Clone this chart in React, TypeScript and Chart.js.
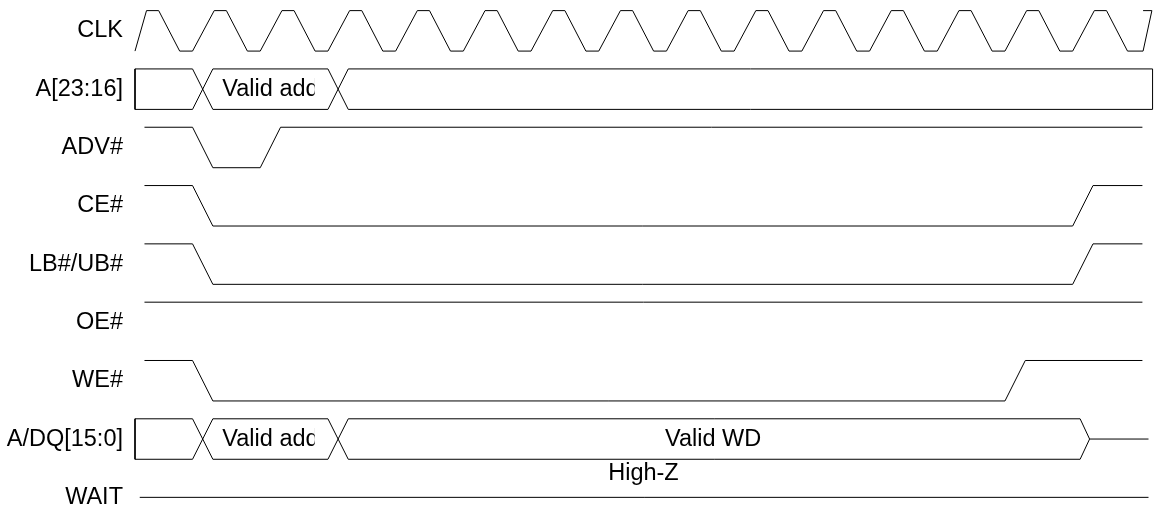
import React, { useEffect, useRef } from 'react';
import { Chart, registerables } from 'chart.js';

Chart.register(...registerables);

// Signal names (one row each, top to bottom)
const signalNames = ['CLK', 'A[23:16]', 'ADV#', 'CE#', 'LB#/UB#', 'OE#', 'WE#', 'A/DQ[15:0]', 'WAIT'];

// Waveforms: [time in clock cycles, level] ; level 1 = high, 0 = low, 0.5 = mid / high-Z
const clkWave: number[][] = [
  [0, 0], [0.17, 1], [0.35, 1], [0.66, 0], [0.85, 0],
  [1.17, 1], [1.35, 1], [1.66, 0], [1.85, 0],
  [2.17, 1], [2.35, 1], [2.66, 0], [2.85, 0],
  [3.17, 1], [3.35, 1], [3.66, 0], [3.85, 0],
  [4.17, 1], [4.35, 1], [4.66, 0], [4.85, 0],
  [5.17, 1], [5.35, 1], [5.66, 0], [5.85, 0],
  [6.17, 1], [6.35, 1], [6.66, 0], [6.85, 0],
  [7.17, 1], [7.35, 1], [7.66, 0], [7.85, 0],
  [8.17, 1], [8.35, 1], [8.66, 0], [8.85, 0],
  [9.17, 1], [9.35, 1], [9.66, 0], [9.85, 0],
  [10.17, 1], [10.35, 1], [10.66, 0], [10.85, 0],
  [11.17, 1], [11.35, 1], [11.66, 0], [11.85, 0],
  [12.17, 1], [12.35, 1], [12.66, 0], [12.85, 0],
  [13.17, 1], [13.35, 1], [13.66, 0], [13.85, 0],
  [14.17, 1], [14.35, 1], [14.66, 0], [14.89, 0],
  [15.02, 1], [14.89, 1],
];
const addrHiBus: number[][] = [
  [15.03, 1], [3.15, 1], [2.85, 0], [1.15, 0], [0.85, 1], [0, 1],
  [0, 0], [0.85, 0], [1.15, 1], [2.85, 1], [3.15, 0], [15.03, 0], [15.03, 1],
];
const advWave: number[][] = [[0.14, 1], [0.85, 1], [1.15, 0], [1.85, 0], [2.15, 1], [14.88, 1]];
const ceWave: number[][] = [[0.14, 1], [0.85, 1], [1.15, 0], [13.85, 0], [14.15, 1], [14.88, 1]];
const lbubWave: number[][] = [[0.14, 1], [0.85, 1], [1.15, 0], [13.85, 0], [14.15, 1], [14.88, 1]];
const oeWave: number[][] = [[0.14, 1], [14.88, 1]];
const weWave: number[][] = [[0.14, 1], [0.85, 1], [1.15, 0], [12.85, 0], [13.15, 1], [14.88, 1]];
const adqBus: number[][] = [
  [14.97, 0.5], [14.1, 0.5], [13.96, 1], [3.15, 1], [2.85, 0], [1.15, 0], [0.85, 1], [0, 1],
  [0, 0], [0.85, 0], [1.15, 1], [2.85, 1], [3.15, 0], [13.96, 0], [14.1, 0.5],
];
const waitWave: number[][] = [[0.07, 0.5], [14.97, 0.5]];

const waves = [clkWave, addrHiBus, advWave, ceWave, lbubWave, oeWave, weWave, adqBus, waitWave];

// Bus annotations
const annoText = ['Valid address', 'Valid address', 'Valid WD', 'High-Z'];
const annoTime = [1.29, 1.29, 8.54, 7.51];
const annoRow = [1.117, 7.117, 7.125, 7.71];
const annoClipEnd: (number | null)[] = [2.655, 2.655, null, null];
const annoAlign: CanvasTextAlign[] = ['left', 'left', 'center', 'center'];

const SWING = 0.347; // half height of a waveform, in rows
const FONT_FAMILY = '"Liberation Sans", Arial, sans-serif';
const FONT_SIZE = 23.5;

const busTextPlugin = {
  id: 'busText',
  afterDatasetsDraw(chart: any) {
    const { ctx, scales } = chart;
    const x = scales.x;
    const y = scales.y;
    ctx.save();
    ctx.font = `${FONT_SIZE}px ${FONT_FAMILY}`;
    ctx.fillStyle = '#000';
    ctx.textBaseline = 'alphabetic';
    annoText.forEach((txt, i) => {
      const px = x.getPixelForValue(annoTime[i]);
      const py = y.getPixelForValue(annoRow[i]);
      ctx.save();
      const clipEnd = annoClipEnd[i];
      if (clipEnd != null) {
        const ex = x.getPixelForValue(clipEnd);
        ctx.beginPath();
        ctx.rect(px - 4, py - 30, ex - px + 4, 40);
        ctx.clip();
      }
      ctx.textAlign = annoAlign[i];
      ctx.fillText(txt, px, py);
      ctx.restore();
    });
    ctx.restore();
  },
};

export default function App() {
  const ref = useRef<HTMLCanvasElement>(null);

  useEffect(() => {
    if (!ref.current) return;
    const datasets = waves.map((w, row) => ({
      label: signalNames[row],
      data: w.map(([t, lv]) => ({ x: t, y: row + (0.5 - lv) * 2 * SWING })),
      showLine: true,
      borderColor: '#000',
      borderWidth: 1,
      pointRadius: 0,
      pointHoverRadius: 0,
      tension: 0,
      fill: false,
      clip: false as any,
    }));

    const chart = new Chart(ref.current, {
      type: 'scatter',
      data: { datasets },
      options: {
        animation: false,
        responsive: false,
        devicePixelRatio: 1,
        events: [],
        layout: { padding: 0 },
        plugins: {
          legend: { display: false },
          tooltip: { enabled: false },
          title: { display: false },
        },
        scales: {
          x: {
            type: 'linear',
            display: false,
            min: 0,
            max: 15.066,
          },
          y: {
            type: 'linear',
            reverse: true,
            min: -0.529,
            max: 8.234,
            grid: { display: false, drawTicks: false },
            border: { display: false },
            ticks: {
              padding: 12,
              color: '#000',
              font: { family: FONT_FAMILY, size: FONT_SIZE },
              callback: (_v: any, i: number) => signalNames[i],
            },
            afterBuildTicks: (scale: any) => {
              scale.ticks = signalNames.map((_, i) => ({ value: i }));
            },
            afterFit: (scale: any) => {
              scale.width = 135;
              scale.paddingTop = 0;
              scale.paddingBottom = 0;
            },
          },
        },
      },
      plugins: [busTextPlugin],
    } as any);

    return () => chart.destroy();
  }, []);

  return (
    <div style={{ position: 'fixed', left: 0, top: 0, width: 1155, height: 511, background: '#fff' }}>
      <canvas ref={ref} width={1155} height={511} style={{ width: 1155, height: 511, display: 'block' }} />
    </div>
  );
}
